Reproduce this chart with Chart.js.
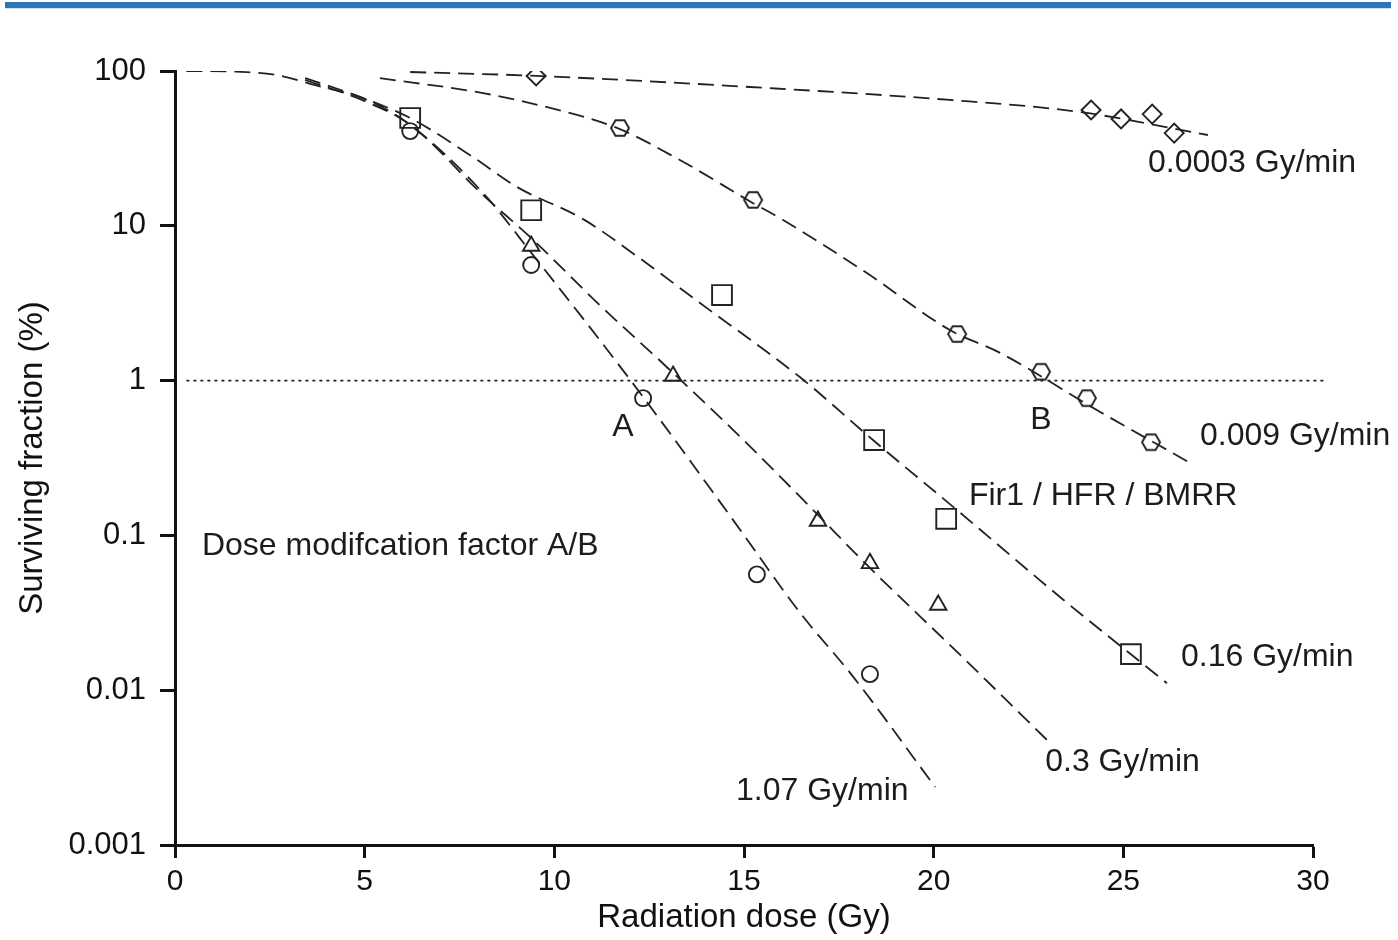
<!DOCTYPE html>
<html>
<head>
<meta charset="utf-8">
<script src="https://cdn.jsdelivr.net/npm/chart.js@4"></script>
<style>
  html, body { margin: 0; padding: 0; background: #fff; }
  canvas { display: block; }
</style>
</head>
<body>
<canvas id="survivalChart" width="1398" height="940"></canvas>
<script>
// tick values / labels
const xTicks = [0, 5, 10, 15, 20, 25, 30];
const yTicks = [0.001, 0.01, 0.1, 1, 10, 100];
const yTickLabels = ['0.001', '0.01', '0.1', '1', '10', '100'];

// measured points (dose in Gy, surviving fraction in %)
const dose107 = [6.2, 9.39, 12.34, 15.34, 18.32];
const surv107 = [40.9, 5.58, 0.77, 0.056, 0.0127];

const dose03 = [9.39, 13.13, 16.95, 18.32, 20.12];
const surv03 = [7.4, 1.07, 0.124, 0.066, 0.0355];

const dose016 = [6.2, 9.39, 14.42, 18.43, 20.33, 25.2];
const surv016 = [49.7, 12.6, 3.57, 0.413, 0.128, 0.0171];

const dose0009 = [11.73, 15.24, 20.62, 22.83, 24.04, 25.73];
const surv0009 = [42.8, 14.7, 2.0, 1.14, 0.77, 0.40];

const dose00003 = [9.52, 24.15, 24.94, 25.76, 26.34];
const surv00003 = [92.8, 56, 49, 52.7, 39.7];

// fitted curves
const fit107X = [0.3, 1.6, 2.7, 3.7, 5.06, 6.2, 8.12, 9.44, 12.07, 14.71, 16.48, 17.88, 20.04];
const fit107Y = [100, 99, 94, 81, 65, 44.8, 16.3, 6.47, 0.96, 0.126, 0.0316, 0.0122, 0.00237];

const fit03X = [3.43, 5.06, 6.2, 8.12, 9.36, 11.2, 12.97, 14.9, 16.74, 18.24, 20.7, 23.07];
const fit03Y = [87.5, 63, 45, 15.8, 8.47, 3.07, 1.22, 0.433, 0.153, 0.0644, 0.0169, 0.00456];

const fit016X = [3.43, 4.88, 6.2, 7.78, 9.02, 10.77, 12.2, 13.84, 16.48, 18.4, 20.7, 23.33, 26.15];
const fit016Y = [90, 68, 49.7, 28.6, 17.8, 11.0, 6.3, 3.17, 1.05, 0.413, 0.14, 0.04, 0.0111];

const fit0009X = [5.4, 8.12, 9.89, 11.65, 13.31, 15.24, 16.03, 18.24, 20.43, 21.75, 24.39, 26.76];
const fit0009Y = [90, 72, 57.7, 42.9, 26.6, 14.0, 10.9, 4.95, 2.12, 1.51, 0.627, 0.294];

const fit00003X = [6.2, 9.52, 15.16, 20.43, 23.86, 27.23];
const fit00003Y = [98.5, 93, 78.8, 65, 54.3, 38.6];

const refLineX = [0.3, 30.3];
const refLineY = [1, 1];

// text labels placed in data coordinates
const notes = [
  { text: '0.0003 Gy/min', x: 25.65, y: 25.5, align: 'left' },
  { text: '0.009 Gy/min', x: 27.02, y: 0.439, align: 'left' },
  { text: 'Fir1 / HFR / BMRR', x: 20.93, y: 0.18, align: 'left' },
  { text: '0.16 Gy/min', x: 26.52, y: 0.0164, align: 'left' },
  { text: '0.3 Gy/min', x: 22.94, y: 0.00344, align: 'left' },
  { text: '1.07 Gy/min', x: 14.79, y: 0.00223, align: 'left' },
  { text: 'A', x: 11.81, y: 0.5, align: 'center' },
  { text: 'B', x: 22.83, y: 0.556, align: 'center' },
  { text: 'Dose modifcation factor A/B', x: 0.71, y: 0.0855, align: 'left' }
];

const ink = '#222222';
const fontFamily = '"Liberation Sans", Arial, Helvetica, sans-serif';

function pairs(xs, ys) {
  return xs.map((x, i) => ({ x: x, y: ys[i] }));
}

function hexagonStyle(r) {
  const size = Math.ceil(r * 2 + 4);
  const c = document.createElement('canvas');
  c.width = size; c.height = size;
  const g = c.getContext('2d');
  g.strokeStyle = ink;
  g.lineWidth = 1.9;
  g.beginPath();
  for (let k = 0; k < 6; k++) {
    const a = Math.PI / 3 * k;
    const px = size / 2 + r * Math.cos(a);
    const py = size / 2 + r * Math.sin(a);
    if (k === 0) g.moveTo(px, py); else g.lineTo(px, py);
  }
  g.closePath();
  g.stroke();
  return c;
}

function curve(xs, ys) {
  return {
    data: pairs(xs, ys),
    showLine: true,
    borderColor: ink,
    borderWidth: 1.8,
    borderDash: [16, 8],
    pointRadius: 0,
    cubicInterpolationMode: 'monotone',
    fill: false
  };
}

function markers(xs, ys, style, radius) {
  return {
    data: pairs(xs, ys),
    showLine: false,
    pointStyle: style,
    pointRadius: radius,
    pointBorderColor: ink,
    pointBackgroundColor: 'rgba(0,0,0,0)',
    pointBorderWidth: 1.9
  };
}

const bgPlugin = {
  id: 'bg',
  beforeDraw(chart) {
    const ctx = chart.ctx;
    ctx.save();
    ctx.fillStyle = '#ffffff';
    ctx.fillRect(0, 0, chart.width, chart.height);
    ctx.fillStyle = '#2a76b9';
    ctx.fillRect(5, 2, 1386, 6);
    ctx.fillStyle = '#cfe0f0';
    ctx.fillRect(5, 8, 1386, 1);
    ctx.restore();
  }
};

const notesPlugin = {
  id: 'notes',
  afterDatasetsDraw(chart) {
    const ctx = chart.ctx;
    const xs = chart.scales.x, ys = chart.scales.y;
    ctx.save();
    ctx.fillStyle = '#1c1c1c';
    ctx.font = '32px ' + fontFamily;
    ctx.textBaseline = 'middle';
    notes.forEach(n => {
      ctx.textAlign = n.align;
      ctx.fillText(n.text, xs.getPixelForValue(n.x), ys.getPixelForValue(n.y));
    });
    ctx.restore();
  }
};

const refLine = {
  data: pairs(refLineX, refLineY),
  showLine: true,
  borderColor: ink,
  borderWidth: 1.6,
  borderDash: [3, 4],
  pointRadius: 0,
  clip: false
};

new Chart(document.getElementById('survivalChart'), {
  type: 'scatter',
  data: {
    datasets: [
      refLine,
      curve(fit107X, fit107Y),
      curve(fit03X, fit03Y),
      curve(fit016X, fit016Y),
      curve(fit0009X, fit0009Y),
      curve(fit00003X, fit00003Y),
      markers(dose107, surv107, 'circle', 8),
      markers(dose03, surv03, 'triangle', 9.5),
      markers(dose016, surv016, 'rect', 14),
      markers(dose0009, surv0009, hexagonStyle(9), 9),
      markers(dose00003, surv00003, 'rectRot', 9.5)
    ]
  },
  options: {
    responsive: false,
    animation: false,
    layout: { padding: { left: 0, top: 71, right: 85, bottom: 0 } },
    plugins: {
      legend: { display: false },
      tooltip: { enabled: false }
    },
    scales: {
      x: {
        type: 'linear',
        min: 0,
        max: 30,
        afterBuildTicks: scale => { scale.ticks = xTicks.map(v => ({ value: v })); },
        afterFit: scale => { scale.height = 95; },
        border: { display: true, color: '#111', width: 3 },
        grid: { drawOnChartArea: false, drawTicks: true, tickLength: 13, tickWidth: 3, tickColor: '#111' },
        ticks: {
          color: '#111',
          padding: 6,
          font: { family: fontFamily, size: 30 }
        },
        title: {
          display: true,
          text: 'Radiation dose (Gy)',
          color: '#111',
          font: { family: fontFamily, size: 33 },
          padding: 2
        }
      },
      y: {
        type: 'logarithmic',
        min: 0.001,
        max: 100,
        afterBuildTicks: scale => { scale.ticks = yTicks.map(v => ({ value: v })); },
        afterFit: scale => { scale.width = 175; },
        border: { display: true, color: '#111', width: 3 },
        grid: { drawOnChartArea: false, drawTicks: true, tickLength: 15, tickWidth: 3, tickColor: '#111' },
        ticks: {
          color: '#111',
          padding: 14,
          autoSkip: false,
          font: { family: fontFamily, size: 31 },
          callback: (val, i) => yTickLabels[i]
        },
        title: {
          display: true,
          text: 'Surviving fraction (%)',
          color: '#111',
          font: { family: fontFamily, size: 33 },
          padding: 13
        }
      }
    }
  },
  plugins: [bgPlugin, notesPlugin]
});
</script>
</body>
</html>
